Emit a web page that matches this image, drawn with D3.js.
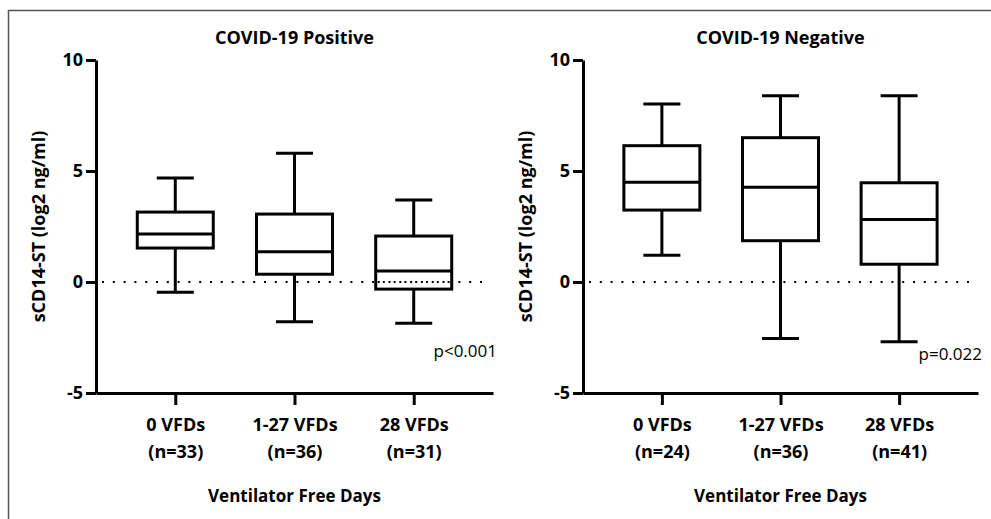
<!DOCTYPE html>
<html>

<head>
    <meta charset="UTF-8">
    <title>sCD14-ST by VFDs</title>
    <style>
        body {
            margin: 0;
            background: #fff;
        }

        svg text {
            font-family: "Open Sans", Lato, sans-serif;
            fill: #000;
        }

        .axis path,
        .axis line {
            stroke: #000;
            stroke-width: 3px;
        }

        .axis text {
            font-size: 18px;
            font-weight: bold;
        }

        .box {
            fill: none;
            stroke: #000;
            stroke-width: 3px;
        }

        .zero-line {
            stroke: #000;
            stroke-width: 2px;
            stroke-dasharray: 2, 8.8;
        }
    </style>
</head>

<body>
    <svg class="chart" width="991" height="519"></svg>

    <script src="https://cdn.jsdelivr.net/npm/d3@7"></script>

    <script>
        // categories
        const groups = ['0 VFDs', '1-27 VFDs', '28 VFDs'];

        // n per group
        const nPositive = [33, 36, 31];
        const nNegative = [24, 36, 41];

        // box stats [min, q1, median, q3, max]
        const positiveStats = [
            [-0.46, 1.53, 2.16, 3.15, 4.68],
            [-1.79, 0.35, 1.36, 3.06, 5.8],
            [-1.86, -0.32, 0.5, 2.07, 3.69]
        ];
        const negativeStats = [
            [1.2, 3.24, 4.49, 6.14, 8.02],
            [-2.54, 1.86, 4.27, 6.5, 8.39],
            [-2.69, 0.8, 2.82, 4.47, 8.39]
        ];

        const yTicks = [-5, 0, 5, 10];

        const svg = d3.select('.chart');

        // outer frame (left + top only)
        svg.append('path')
            .attr('d', 'M8.5,519V10.5H991')
            .attr('fill', 'none')
            .attr('stroke', '#555')
            .attr('stroke-width', 1.5);

        drawPanel({
            left: 96,
            width: 397,
            title: 'COVID-19 Positive',
            stats: positiveStats,
            n: nPositive,
            pText: 'p<0.001',
            pY: -3.4
        });

        drawPanel({
            left: 583,
            width: 395,
            title: 'COVID-19 Negative',
            stats: negativeStats,
            n: nNegative,
            pText: 'p=0.022',
            pY: -3.5
        });

        function drawPanel(opts) {
            const top = 60;
            const height = 333;
            const w = opts.width;

            const g = svg.append('g')
                .attr('transform', `translate(${ opts.left },${ top })`);

            const x = d3.scalePoint()
                .domain(groups)
                .range([0, w])
                .padding(0.665);

            const y = d3.scaleLinear()
                .domain([-5, 10])
                .range([height, 0]);

            // zero reference line
            g.append('line')
                .attr('class', 'zero-line')
                .attr('x1', 6)
                .attr('x2', w - 6)
                .attr('y1', y(0))
                .attr('y2', y(0));

            const boxW = 76;
            const capW = 37;

            const boxes = g.selectAll('.box-group')
                .data(opts.stats)
                .enter()
                .append('g')
                .attr('transform', (d, i) => `translate(${ x(groups[i]) },0)`);

            // whiskers
            boxes.append('line')
                .attr('class', 'box')
                .attr('y1', d => y(d[0]))
                .attr('y2', d => y(d[1]));
            boxes.append('line')
                .attr('class', 'box')
                .attr('y1', d => y(d[3]))
                .attr('y2', d => y(d[4]));

            // caps
            boxes.append('line')
                .attr('class', 'box')
                .attr('x1', -capW / 2)
                .attr('x2', capW / 2)
                .attr('y1', d => y(d[0]))
                .attr('y2', d => y(d[0]));
            boxes.append('line')
                .attr('class', 'box')
                .attr('x1', -capW / 2)
                .attr('x2', capW / 2)
                .attr('y1', d => y(d[4]))
                .attr('y2', d => y(d[4]));

            // box
            boxes.append('rect')
                .attr('class', 'box')
                .attr('fill', '#fff')
                .attr('x', -boxW / 2)
                .attr('width', boxW)
                .attr('y', d => y(d[3]))
                .attr('height', d => y(d[1]) - y(d[3]));

            // the dotted line shows through the boxes
            boxes.append('line')
                .attr('class', 'zero-line')
                .attr('x1', -boxW / 2 + 2)
                .attr('x2', boxW / 2 - 2)
                .attr('y1', y(0))
                .attr('y2', y(0))
                .style('display', d => (d[1] < 0 && d[3] > 0) ? null : 'none');

            // median
            boxes.append('line')
                .attr('class', 'box')
                .attr('x1', -boxW / 2)
                .attr('x2', boxW / 2)
                .attr('y1', d => y(d[2]))
                .attr('y2', d => y(d[2]));

            // axes
            g.append('g')
                .attr('class', 'axis')
                .call(d3.axisLeft(y).tickValues(yTicks).tickSize(10).tickSizeOuter(0).tickPadding(3)
                    .tickFormat(d => String(d)));

            const xAxis = g.append('g')
                .attr('class', 'axis')
                .attr('transform', `translate(0,${ height })`)
                .call(d3.axisBottom(x).tickSize(12).tickSizeOuter(0).tickFormat(''));

            xAxis.selectAll('.tick')
                .each(function (d, i) {
                    const t = d3.select(this).append('text')
                        .attr('text-anchor', 'middle')
                        .style('font-size', '18px');
                    t.append('tspan').attr('x', 0).attr('y', 38).text(d);
                    t.append('tspan').attr('x', 0).attr('y', 65).text(`(n=${ opts.n[i] })`);
                });

            // title
            g.append('text')
                .attr('x', w / 2)
                .attr('y', -16)
                .attr('text-anchor', 'middle')
                .style('font-size', '18px')
                .style('font-weight', 'bold')
                .text(opts.title);

            // x title
            g.append('text')
                .attr('x', w / 2)
                .attr('y', 442)
                .attr('text-anchor', 'middle')
                .style('font-size', '17px')
                .style('font-weight', 'bold')
                .text('Ventilator Free Days');

            // y title
            g.append('text')
                .attr('transform', `translate(-51,${ height / 2 }) rotate(-90)`)
                .attr('text-anchor', 'middle')
                .style('font-size', '18px')
                .style('font-weight', 'bold')
                .text('sCD14-ST (log2 ng/ml)');

            // p value
            g.append('text')
                .attr('x', w + 4)
                .attr('y', y(opts.pY))
                .attr('text-anchor', 'end')
                .style('font-size', '17px')
                .text(opts.pText);
        }
    </script>
</body>

</html>
